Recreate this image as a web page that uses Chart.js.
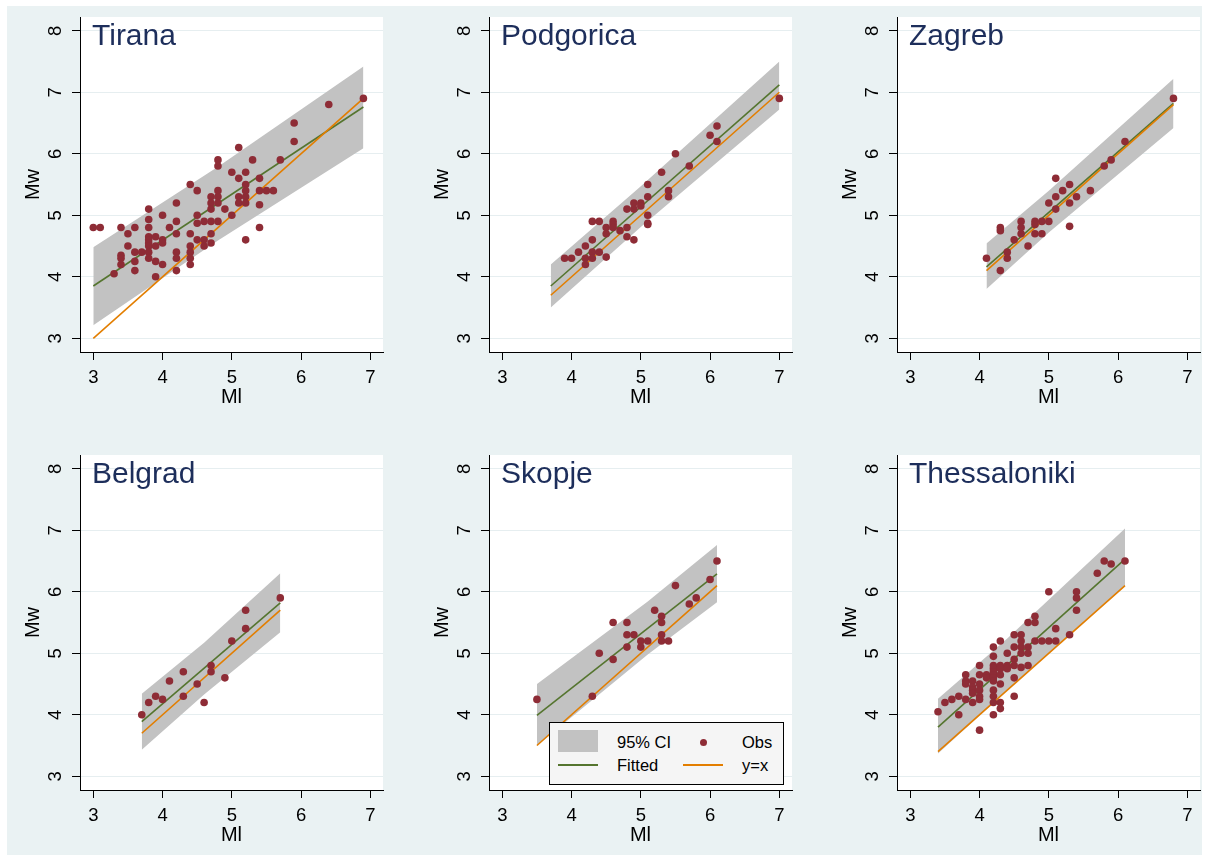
<!DOCTYPE html>
<html>
<head>
<meta charset="utf-8">
<script src="https://cdn.jsdelivr.net/npm/chart.js@4.4.1/dist/chart.umd.min.js"></script>
<style>
html,body{margin:0;padding:0;background:#fff;}
#wrap{position:relative;width:1208px;height:861px;overflow:hidden;background:#fff;}
#bg{position:absolute;left:7px;top:6px;width:1195px;height:849px;background:#eaf2f3;}
canvas{position:absolute;}
#legend{position:absolute;left:549px;top:722px;width:235px;height:63px;box-sizing:border-box;border:1px solid #000;background:#f5f5f5;font-family:"Liberation Sans",Arial,sans-serif;font-size:16.5px;color:#000;}
#legend div{position:absolute;}
#legend .t{line-height:20px;white-space:nowrap;}
</style>
</head>
<body>
<div id="wrap">
<div id="bg"></div>
<canvas id="c0" width="384" height="405" style="left:7px;top:7px"></canvas>
<canvas id="c1" width="384" height="405" style="left:416px;top:7px"></canvas>
<canvas id="c2" width="384" height="405" style="left:824px;top:7px"></canvas>
<canvas id="c3" width="384" height="405" style="left:7px;top:445px"></canvas>
<canvas id="c4" width="384" height="405" style="left:416px;top:445px"></canvas>
<canvas id="c5" width="384" height="405" style="left:824px;top:445px"></canvas>
<div id="legend">
  <div style="left:8px;top:7px;width:40px;height:22px;background:#c2c2c2"></div>
  <div class="t" style="left:67px;top:9px">95% CI</div>
  <div style="left:150px;top:15.5px;width:7px;height:7px;border-radius:50%;background:#8e2c36"></div>
  <div class="t" style="left:192px;top:9px">Obs</div>
  <div style="left:8px;top:41px;width:40px;height:2px;background:#55752f"></div>
  <div class="t" style="left:67px;top:32px">Fitted</div>
  <div style="left:133px;top:41px;width:40px;height:2px;background:#e37e00"></div>
  <div class="t" style="left:192px;top:32px">y=x</div>
</div>
</div>
<script>
// ---------- data ----------
const xTicks = [3, 4, 5, 6, 7];
const yTicks = [3, 4, 5, 6, 7, 8];
const cities = ['Tirana', 'Podgorica', 'Zagreb', 'Belgrad', 'Skopje', 'Thessaloniki'];

const tiranaMl = [3.0,3.1,3.3,3.4,3.4,3.4,3.4,3.5,3.5,3.6,3.6,3.6,3.6,3.7,3.8,3.8,3.8,3.8,3.8,3.8,3.8,3.8,3.8,3.9,3.9,3.9,3.9,4.0,4.0,4.0,4.0,4.1,4.2,4.2,4.2,4.2,4.2,4.2,4.4,4.4,4.4,4.4,4.4,4.4,4.5,4.5,4.5,4.5,4.6,4.6,4.6,4.7,4.7,4.7,4.7,4.7,4.7,4.8,4.8,4.8,4.8,4.8,4.8,4.9,5.0,5.0,5.1,5.1,5.1,5.1,5.2,5.2,5.2,5.2,5.2,5.2,5.3,5.4,5.4,5.4,5.4,5.5,5.6,5.7,5.9,5.9,6.4,6.9];
const tiranaMw = [4.8,4.8,4.05,4.8,4.35,4.3,4.2,4.7,4.5,4.8,4.4,4.25,4.1,4.4,5.1,4.93,4.8,4.65,4.6,4.55,4.5,4.4,4.3,4.65,4.5,4.25,4.0,5.0,4.6,4.55,4.2,4.8,5.2,4.9,4.7,4.4,4.3,4.1,5.5,4.7,4.5,4.4,4.3,4.2,5.4,5.0,4.87,4.6,4.9,4.6,4.5,5.3,5.2,5.1,4.9,4.7,4.55,5.9,5.8,5.4,5.3,5.2,4.9,5.1,5.7,5.0,6.1,5.6,5.3,5.2,5.7,5.5,5.4,5.3,5.2,4.6,5.9,5.6,5.4,5.17,4.8,5.4,5.4,5.9,6.5,6.2,6.8,6.9];
const tiranaFitX = [3.0, 6.9];
const tiranaFitY = [3.85, 6.76];
const tiranaBandX = [3.0, 4.8, 6.9];
const tiranaBandUp = [4.48, 5.79, 7.42];
const tiranaBandLo = [3.21, 4.59, 6.09];

const podgoricaMl = [3.9,4.0,4.1,4.2,4.2,4.2,4.3,4.3,4.3,4.3,4.4,4.4,4.5,4.5,4.5,4.6,4.6,4.6,4.7,4.8,4.8,4.8,4.9,4.9,4.9,5.0,5.0,5.1,5.1,5.1,5.1,5.1,5.3,5.4,5.4,5.5,5.7,6.0,6.1,6.1,7.0];
const podgoricaMw = [4.3,4.3,4.4,4.5,4.3,4.2,4.4,4.6,4.9,4.3,4.9,4.4,4.8,4.7,4.32,4.9,4.85,4.8,4.75,5.1,4.8,4.65,5.2,5.1,4.6,5.2,5.15,5.5,5.3,5.0,4.87,4.85,5.7,5.4,5.3,6.0,5.8,6.3,6.45,6.2,6.9];
const podgoricaFitX = [3.7, 7.0];
const podgoricaFitY = [3.85, 7.12];
const podgoricaBandX = [3.7, 5.0, 7.0];
const podgoricaBandUp = [4.2, 5.47, 7.5];
const podgoricaBandLo = [3.5, 4.81, 6.72];

const zagrebMl = [4.1,4.3,4.3,4.3,4.4,4.4,4.5,4.6,4.6,4.6,4.7,4.8,4.8,4.8,4.9,4.9,5.0,5.0,5.1,5.1,5.1,5.2,5.3,5.3,5.3,5.4,5.6,5.8,5.9,6.1,6.8];
const zagrebMw = [4.3,4.8,4.75,4.1,4.4,4.3,4.6,4.9,4.8,4.7,4.5,4.9,4.85,4.7,4.9,4.7,5.2,4.9,5.6,5.3,5.1,5.4,5.5,5.2,4.82,5.3,5.4,5.8,5.9,6.2,6.9];
const zagrebFitX = [4.1, 6.8];
const zagrebFitY = [4.16, 6.82];
const zagrebBandX = [4.1, 5.0, 6.8];
const zagrebBandUp = [4.54, 5.40, 7.22];
const zagrebBandLo = [3.8, 4.72, 6.42];

const belgradMl = [3.7,3.8,3.9,4.0,4.1,4.3,4.3,4.5,4.6,4.7,4.7,4.9,5.0,5.2,5.2,5.7];
const belgradMw = [4.0,4.2,4.3,4.25,4.55,4.7,4.3,4.5,4.2,4.8,4.7,4.6,5.2,5.4,5.7,5.9];
const belgradFitX = [3.7, 5.7];
const belgradFitY = [3.89, 5.82];
const belgradBandX = [3.7, 4.6, 5.7];
const belgradBandUp = [4.34, 5.17, 6.3];
const belgradBandLo = [3.43, 4.33, 5.34];

const skopjeMl = [3.5,4.3,4.4,4.6,4.6,4.8,4.8,4.8,4.9,5.0,5.0,5.1,5.2,5.3,5.3,5.3,5.3,5.4,5.5,5.7,5.8,6.0,6.1];
const skopjeMw = [4.25,4.3,5.0,5.5,4.9,5.5,5.3,5.1,5.3,5.2,5.1,5.2,5.7,5.6,5.5,5.3,5.2,5.2,6.1,5.8,5.9,6.2,6.5];
const skopjeFitX = [3.5, 6.1];
const skopjeFitY = [3.99, 6.29];
const skopjeBandX = [3.5, 5.1, 6.1];
const skopjeBandUp = [4.5, 5.84, 6.76];
const skopjeBandLo = [3.5, 4.98, 5.83];

const thessMl = [3.4,3.5,3.6,3.7,3.7,3.8,3.8,3.8,3.8,3.9,3.9,3.9,3.9,3.9,4.0,4.0,4.0,4.0,4.0,4.0,4.0,4.1,4.1,4.2,4.2,4.2,4.2,4.2,4.2,4.2,4.2,4.2,4.2,4.2,4.2,4.3,4.3,4.3,4.3,4.3,4.3,4.3,4.4,4.4,4.4,4.5,4.5,4.5,4.5,4.5,4.5,4.6,4.6,4.6,4.6,4.6,4.7,4.7,4.7,4.7,4.8,4.8,4.8,4.9,5.0,5.0,5.1,5.1,5.3,5.4,5.4,5.4,5.7,5.8,5.9,6.1];
const thessMw = [4.05,4.2,4.25,4.3,4.0,4.65,4.55,4.5,4.25,4.55,4.45,4.4,4.35,4.2,4.8,4.65,4.5,4.4,4.3,4.25,3.75,4.65,4.6,5.1,4.95,4.8,4.75,4.7,4.65,4.6,4.55,4.4,4.3,4.2,4.0,5.2,4.8,4.75,4.65,4.5,4.2,4.1,5.0,4.8,4.75,5.3,5.1,4.9,4.8,4.6,4.3,5.3,5.2,5.1,5.0,4.77,5.5,5.1,5.0,4.8,5.6,5.5,5.2,5.2,6.0,5.2,5.4,5.2,5.3,6.0,5.9,5.7,6.3,6.5,6.45,6.5];
const thessFitX = [3.4, 6.1];
const thessFitY = [3.8, 6.53];
const thessBandX = [3.4, 4.4, 6.1];
const thessBandUp = [4.26, 5.24, 7.03];
const thessBandLo = [3.37, 4.40, 6.09];

// ---------- style ----------
const MAROON = '#8e2c36', GREEN = '#55752f', ORANGE = '#e37e00', BAND = '#c2c2c2';
const XMIN = 2.808, XMAX = 7.183, YMIN = 2.777, YMAX = 8.223;
Chart.defaults.font.family = '"Liberation Sans", Arial, Helvetica, sans-serif';
Chart.defaults.color = '#000';

function xy(xs, ys) { return xs.map((x, i) => ({x: x, y: ys[i]})); }
function zeroPad(s) { s.paddingLeft = 0; s.paddingRight = 0; s.paddingTop = 0; s.paddingBottom = 0; }

function makePanel(canvasId, title, ml, mw, fitX, fitY, bandX, bandUp, bandLo) {
  const panelPlugin = {
    id: 'panel_' + canvasId,
    beforeDraw(chart) {
      const a = chart.chartArea, ctx = chart.ctx;
      ctx.save(); ctx.fillStyle = '#fff';
      ctx.fillRect(a.left, a.top, a.right - a.left, a.bottom - a.top);
      ctx.restore();
    },
    afterDraw(chart) {
      const a = chart.chartArea, ctx = chart.ctx;
      ctx.save();
      ctx.font = '30px "Liberation Sans", Arial, sans-serif';
      ctx.fillStyle = '#1d2e5b';
      ctx.textBaseline = 'alphabetic';
      ctx.textAlign = 'left';
      ctx.fillText(title, a.left + 12, a.top + 28);
      ctx.restore();
    }
  };
  new Chart(document.getElementById(canvasId), {
    type: 'line',
    data: {
      datasets: [
        {label: 'Obs', data: xy(ml, mw), showLine: false, pointRadius: 3.8, pointHoverRadius: 3.8,
         pointBackgroundColor: MAROON, pointBorderColor: MAROON, pointBorderWidth: 0, order: 0},
        {label: 'y=x', data: xy(fitX, fitX), borderColor: ORANGE, borderWidth: 1.6,
         pointRadius: 0, fill: false, order: 1},
        {label: 'Fitted', data: xy(fitX, fitY), borderColor: GREEN, borderWidth: 1.6,
         pointRadius: 0, fill: false, order: 2},
        {label: '95% CI', data: xy(bandX, bandUp), borderColor: 'rgba(0,0,0,0)', borderWidth: 0,
         pointRadius: 0, backgroundColor: BAND, fill: '+1', order: 3},
        {label: 'ci_lo', data: xy(bandX, bandLo), borderColor: 'rgba(0,0,0,0)', borderWidth: 0,
         pointRadius: 0, fill: false, order: 4}
      ]
    },
    options: {
      responsive: false, animation: false, devicePixelRatio: 1,
      layout: {padding: {top: 10, right: 8, left: 0, bottom: 0}},
      plugins: {legend: {display: false}, tooltip: {enabled: false}},
      elements: {line: {tension: 0}},
      scales: {
        x: {
          type: 'linear', min: XMIN, max: XMAX,
          afterBuildTicks: s => { s.ticks = xTicks.map(v => ({value: v})); },
          afterFit: s => { s.height = 60; zeroPad(s); },
          grid: {drawOnChartArea: false, drawTicks: true, tickLength: 8, tickColor: '#000', tickWidth: 1},
          border: {display: true, color: '#000', width: 1},
          ticks: {padding: 7, font: {size: 18.5}, color: '#000', maxRotation: 0, minRotation: 0, autoSkip: false},
          title: {display: true, text: 'Ml', font: {size: 20}, color: '#000', padding: {top: 0, bottom: 2.5}}
        },
        y: {
          type: 'linear', min: YMIN, max: YMAX,
          afterBuildTicks: s => { s.ticks = yTicks.map(v => ({value: v})); },
          afterFit: s => { s.width = 73; zeroPad(s); },
          grid: {drawOnChartArea: true, color: '#e6eef0', lineWidth: 1, drawTicks: true, tickLength: 8, tickColor: '#000', tickWidth: 1},
          border: {display: true, color: '#000', width: 1},
          ticks: {padding: 16, minRotation: 90, maxRotation: 90, labelOffset: -5, font: {size: 18.5}, color: '#000', autoSkip: false},
          title: {display: true, text: 'Mw', font: {size: 20}, color: '#000', padding: {top: 14, bottom: 0}}
        }
      }
    },
    plugins: [panelPlugin]
  });
}

makePanel('c0', cities[0], tiranaMl, tiranaMw, tiranaFitX, tiranaFitY, tiranaBandX, tiranaBandUp, tiranaBandLo);
makePanel('c1', cities[1], podgoricaMl, podgoricaMw, podgoricaFitX, podgoricaFitY, podgoricaBandX, podgoricaBandUp, podgoricaBandLo);
makePanel('c2', cities[2], zagrebMl, zagrebMw, zagrebFitX, zagrebFitY, zagrebBandX, zagrebBandUp, zagrebBandLo);
makePanel('c3', cities[3], belgradMl, belgradMw, belgradFitX, belgradFitY, belgradBandX, belgradBandUp, belgradBandLo);
makePanel('c4', cities[4], skopjeMl, skopjeMw, skopjeFitX, skopjeFitY, skopjeBandX, skopjeBandUp, skopjeBandLo);
makePanel('c5', cities[5], thessMl, thessMw, thessFitX, thessFitY, thessBandX, thessBandUp, thessBandLo);
</script>
</body>
</html>
